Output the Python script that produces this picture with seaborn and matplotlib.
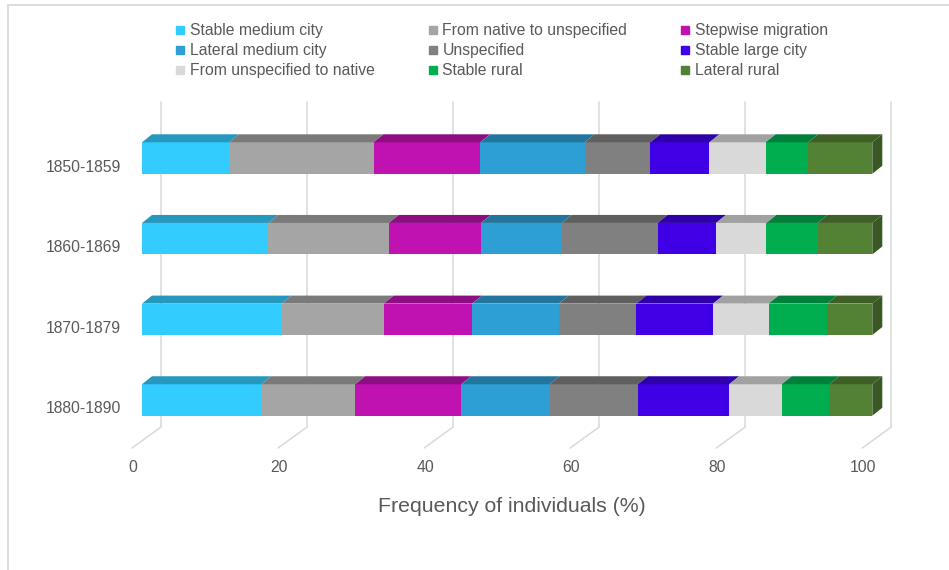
import numpy as np
import pandas as pd
import matplotlib
matplotlib.use("Agg")
import matplotlib.pyplot as plt
import seaborn as sns
from matplotlib.patches import Polygon, Rectangle
from matplotlib.lines import Line2D
from matplotlib.transforms import offset_copy
from matplotlib.colors import to_rgb

# ---------------- data ----------------
periods = ["1850-1859", "1860-1869", "1870-1879", "1880-1890"]
series_names = ["Stable medium city", "From native to unspecified", "Stepwise migration",
                "Lateral medium city", "Unspecified", "Stable large city",
                "From unspecified to native", "Stable rural", "Lateral rural"]
stable_medium_city = [11.9, 17.3, 19.1, 16.3]
native_to_unspecified = [19.8, 16.5, 14.0, 12.9]
stepwise_migration = [14.6, 12.6, 12.1, 14.5]
lateral_medium_city = [14.3, 11.1, 11.9, 12.1]
unspecified = [9.0, 13.1, 10.6, 12.1]
stable_large_city = [8.1, 8.0, 10.5, 12.5]
unspecified_to_native = [7.7, 6.9, 7.6, 7.2]
stable_rural = [5.8, 7.0, 8.0, 6.5]
lateral_rural = [8.8, 7.5, 6.2, 5.9]
x_ticks = [0, 20, 40, 60, 80, 100]
x_label = "Frequency of individuals (%)"

colors = ["#33CCFF", "#A5A5A5", "#BF12B0", "#2E9FD4", "#808080",
          "#4000E6", "#D9D9D9", "#00AE50", "#548235"]

series = [stable_medium_city, native_to_unspecified, stepwise_migration,
          lateral_medium_city, unspecified, stable_large_city,
          unspecified_to_native, stable_rural, lateral_rural]

# ---------------- figure ----------------
sns.set_style("white")
plt.rcParams["font.family"] = ["Liberation Sans", "DejaVu Sans"]
TXT = "#595959"
GRID = "#D9D9D9"
FS = 11.3

W, H = 949, 570
fig = plt.figure(figsize=(W / 100, H / 100), dpi=100)
ax_l, ax_r, ax_t, ax_b = 142.0, 872.3, 117.7, 440.3
ax = fig.add_axes([ax_l / W, 1 - ax_b / H, (ax_r - ax_l) / W, (ax_b - ax_t) / H])

# chart area border
fig.patches.append(Rectangle((8 / W, -0.2), 1.5, 1.2 - 5 / H, transform=fig.transFigure,
                             fill=False, edgecolor=GRID, lw=1.3))

# cumulative table
vals = np.array(series)
cum = np.cumsum(vals, axis=0)
df = pd.DataFrame({"period": periods})
for i in range(len(series)):
    df[f"c{i}"] = cum[i]

bar_h = 0.39
for i in reversed(range(len(series))):
    sns.barplot(data=df, x=f"c{i}", y="period", orient="h", color=colors[i],
                saturation=1, width=bar_h, linewidth=0, errorbar=None, ax=ax, zorder=2)

ax.set_xlim(0, 100)
ax.set_ylim(3.5, -0.5)
ax.set_xticks([])
ax.set_yticks([])
ax.set_xlabel("")
ax.set_ylabel("")
for s in ax.spines.values():
    s.set_visible(False)
ax.patch.set_alpha(0)

# pixel scales
px_x = (ax_r - ax_l) / 100.0
px_y = (ax_b - ax_t) / 4.0
dx = 10 / px_x
dy = 8 / px_y


def shade(c, f):
    r, g, b = to_rgb(c)
    return (r * f, g * f, b * f)


# 3D top faces and right side
for r in range(len(periods)):
    yt = r - bar_h / 2
    yb = r + bar_h / 2
    left = 0.0
    for i in range(len(series)):
        right = cum[i][r]
        poly = Polygon([(left, yt), (right, yt), (right + dx, yt - dy), (left + dx, yt - dy)],
                       closed=True, facecolor=shade(colors[i], 0.74), edgecolor="none",
                       clip_on=False, zorder=2.5)
        ax.add_patch(poly)
        left = right
    side = Polygon([(left, yt), (left + dx, yt - dy), (left + dx, yb - dy), (left, yb)],
                   closed=True, facecolor=shade(colors[-1], 0.68), edgecolor="none",
                   clip_on=False, zorder=2.5)
    ax.add_patch(side)

# back-plane gridlines + floor diagonals
back = offset_copy(ax.get_xaxis_transform(), fig=fig, x=19, y=0, units="dots")
f_top = (ax_b - 102) / (ax_b - ax_t)
f_bot = (ax_b - 427) / (ax_b - ax_t)
for t in x_ticks:
    ax.plot([t, t], [f_top, f_bot], transform=back, color=GRID, lw=1.1,
            clip_on=False, zorder=0.5)
    ax.annotate("", xy=(t, f_bot), xycoords=back, xytext=(-29, -21),
                textcoords="offset pixels",
                arrowprops=dict(arrowstyle="-", color=GRID, lw=1.1, shrinkA=0, shrinkB=0),
                zorder=0.5, annotation_clip=False)

# x tick labels
xlab_tr = offset_copy(ax.get_xaxis_transform(), fig=fig, x=-9, y=-(468 - ax_b), units="dots")
for t in x_ticks:
    ax.text(t, 0, str(t), transform=xlab_tr, ha="center", va="center",
            fontsize=FS, color=TXT)

# y tick labels
ylab_tr = offset_copy(ax.transData, fig=fig, x=-(ax_l - 121), y=-9, units="dots")
for r, p in enumerate(periods):
    ax.text(0, r, p, transform=ylab_tr, ha="right", va="center", fontsize=FS, color=TXT)

# axis title
fig.text(512 / W, 1 - 506 / H, x_label, ha="center", va="center", fontsize=15.3, color=TXT)

# legend (row-major order as in reference)
handles = [Line2D([], [], marker="s", linestyle="", color=c, markersize=6) for c in colors]
order = [0, 3, 6, 1, 4, 7, 2, 5, 8]
leg = fig.legend([handles[k] for k in order], [series_names[k] for k in order],
                 ncol=3, loc="upper left", bbox_to_anchor=(175 / W, 1 - 23 / H),
                 frameon=False, fontsize=FS, handlelength=0.7, handletextpad=0.25,
                 columnspacing=3.35, labelspacing=0.33, borderpad=0, borderaxespad=0)
for txt in leg.get_texts():
    txt.set_color(TXT)

fig.savefig("out.png", dpi=100)
